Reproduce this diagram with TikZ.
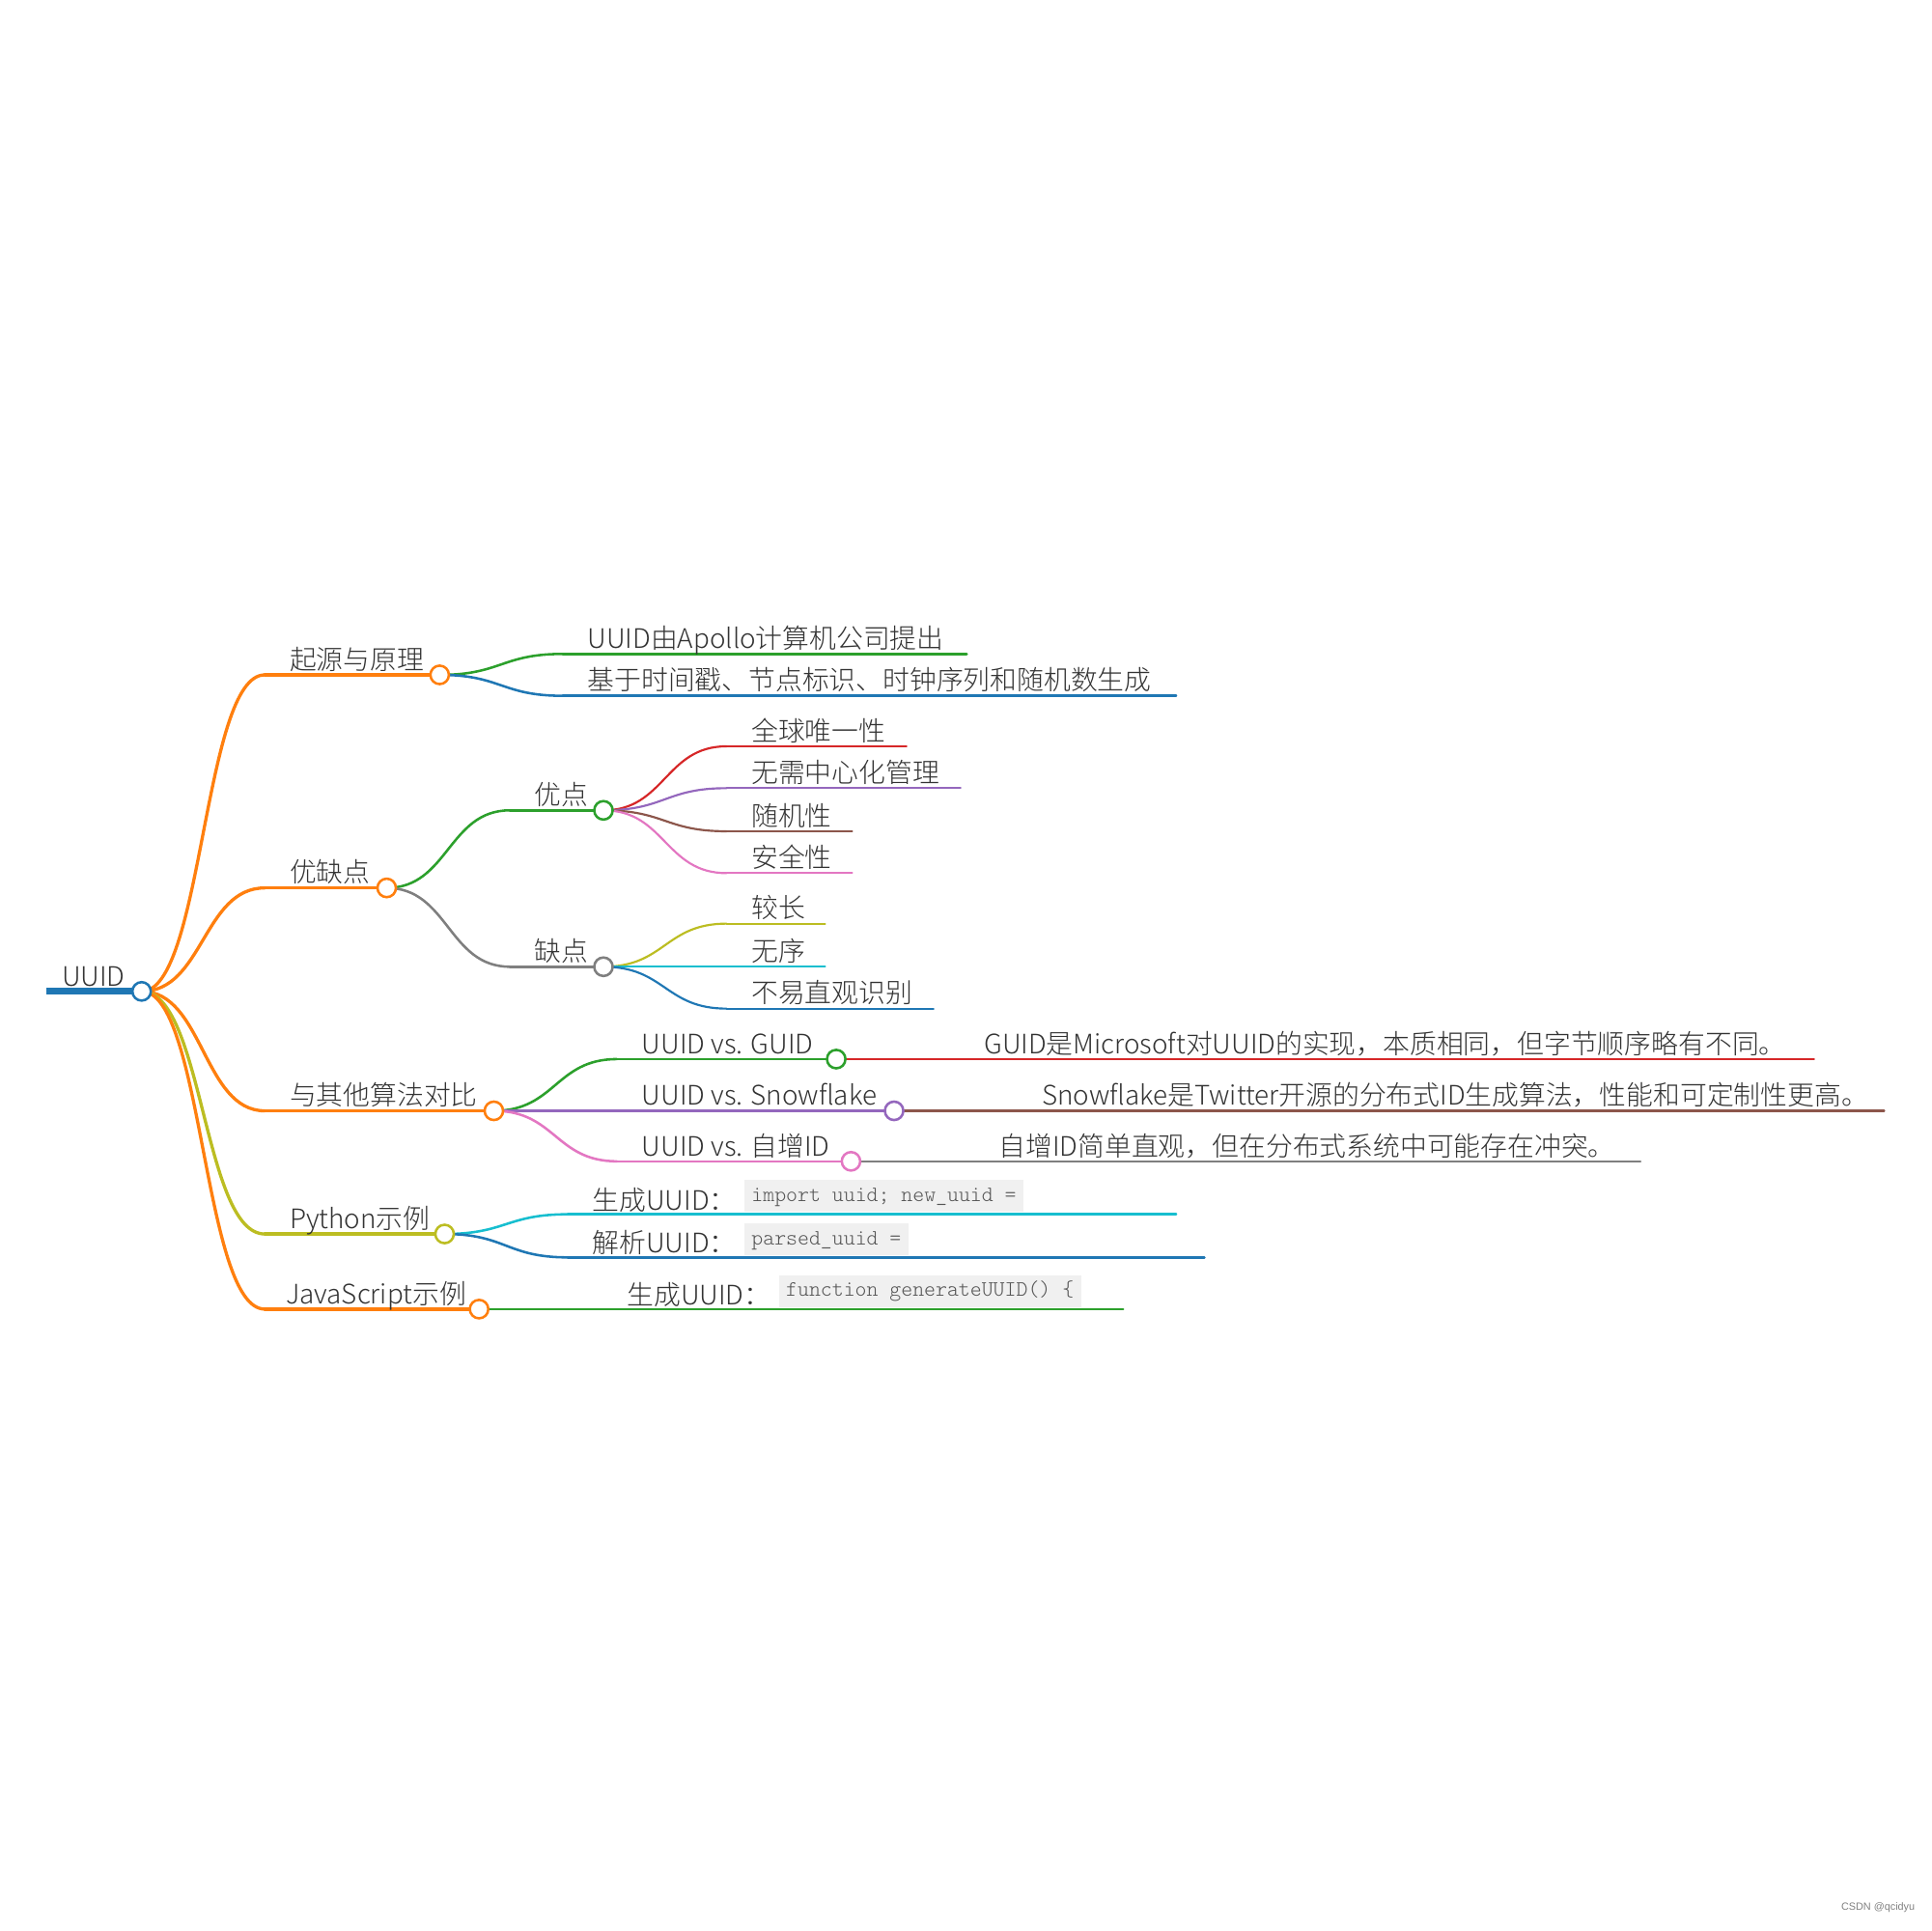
\documentclass[tikz,border=0pt]{standalone}
\usepackage{fontspec}
\setmainfont{Noto Sans CJK SC Light}
\setmonofont{Latin Modern Mono Light}
\newfontfamily\wmfont{Liberation Sans}
\definecolor{cBlue}{HTML}{1F77B4}
\definecolor{cOrange}{HTML}{FF7F0E}
\definecolor{cGreen}{HTML}{2CA02C}
\definecolor{cRed}{HTML}{D62728}
\definecolor{cPurple}{HTML}{9467BD}
\definecolor{cBrown}{HTML}{8C564B}
\definecolor{cPink}{HTML}{E377C2}
\definecolor{cGray}{HTML}{7F7F7F}
\definecolor{cOlive}{HTML}{BCBD22}
\definecolor{cCyan}{HTML}{17BECF}
\definecolor{txt}{HTML}{333333}
\definecolor{codebg}{HTML}{F0F0F0}
\definecolor{codetxt}{HTML}{555555}
\newcommand\lnk[3]{\draw[#3] (#1) .. controls +(50,0) and +(-50,0) .. (#2);}
\tikzset{
  lbl/.style={anchor=base west, inner sep=0pt, text=txt, font=\fontsize{21.8}{26}\selectfont, xshift=20pt, yshift=4.5pt},
  dot/.style={circle, draw, fill=white, minimum size=15pt, inner sep=0pt, line width=2pt},
  codebox/.style={anchor=south west, fill=codebg, text=codetxt, font=\ttfamily\fontsize{17.8}{22}\selectfont, inner xsep=6pt, inner ysep=4.5pt, text height=13pt, text depth=4pt, yshift=1.5pt},
  l1/.style={line width=2.6pt},
  l2/.style={line width=2pt},
  l3/.style={line width=1.7pt},
}
\begin{document}
\begin{tikzpicture}[x=1pt,y=-1pt, line cap=round]
\useasboundingbox (0,0) rectangle (1568,1568);
% ---------- coordinates ----------
\coordinate (r-s) at (38,805);
\coordinate (A-s) at (215,548);  \coordinate (A-c) at (357,548);
\coordinate (B-s) at (215,721);  \coordinate (B-c) at (314,721);
\coordinate (C-s) at (215,902);  \coordinate (C-c) at (401,902);
\coordinate (D-s) at (215,1002); \coordinate (D-c) at (361,1002);
\coordinate (E-s) at (215,1063); \coordinate (E-c) at (389,1063);
\coordinate (A1-s) at (457,531); \coordinate (A1-e) at (785,531);
\coordinate (A2-s) at (457,565); \coordinate (A2-e) at (955,565);
\coordinate (B1-s) at (414,658); \coordinate (B1-c) at (490,658);
\coordinate (B2-s) at (414,785); \coordinate (B2-c) at (490,785);
\coordinate (C1-s) at (501,860); \coordinate (C1-c) at (679,860);
\coordinate (C2-s) at (501,902); \coordinate (C2-c) at (726,902);
\coordinate (C3-s) at (501,943); \coordinate (C3-c) at (691,943);
\coordinate (D1-s) at (461,986); \coordinate (D1-e) at (955,986);
\coordinate (D2-s) at (461,1021); \coordinate (D2-e) at (978,1021);
\coordinate (E1-s) at (489,1063); \coordinate (E1-e) at (912,1063);
\coordinate (B1a-s) at (590,606); \coordinate (B1a-e) at (736,606);
\coordinate (B1b-s) at (590,640); \coordinate (B1b-e) at (780,640);
\coordinate (B1c-s) at (590,675); \coordinate (B1c-e) at (692,675);
\coordinate (B1d-s) at (590,709); \coordinate (B1d-e) at (692,709);
\coordinate (B2a-s) at (590,750); \coordinate (B2a-e) at (670,750);
\coordinate (B2b-s) at (590,785); \coordinate (B2b-e) at (670,785);
\coordinate (B2c-s) at (590,819); \coordinate (B2c-e) at (758,819);
\coordinate (C1a-s) at (779,860); \coordinate (C1a-e) at (1473,860);
\coordinate (C2a-s) at (826,902); \coordinate (C2a-e) at (1530,902);
\coordinate (C3a-s) at (791,943); \coordinate (C3a-e) at (1332,943);
\coordinate (r-c) at (115,805);
% ---------- links ----------
\lnk{r-c}{A-s}{cOrange,l1}
\lnk{r-c}{B-s}{cOrange,l1}
\lnk{r-c}{C-s}{cOrange,l1}
\lnk{r-c}{D-s}{cOlive,l1}
\lnk{r-c}{E-s}{cOrange,l1}
\lnk{A-c}{A1-s}{cGreen,l2}
\lnk{A-c}{A2-s}{cBlue,l2}
\lnk{B-c}{B1-s}{cGreen,l2}
\lnk{B-c}{B2-s}{cGray,l2}
\lnk{C-c}{C1-s}{cGreen,l2}
\lnk{C-c}{C2-s}{cPurple,l2}
\lnk{C-c}{C3-s}{cPink,l2}
\lnk{D-c}{D1-s}{cCyan,l2}
\lnk{D-c}{D2-s}{cBlue,l2}
\lnk{E-c}{E1-s}{cGreen,l2}
\lnk{B1-c}{B1a-s}{cRed,l3}
\lnk{B1-c}{B1b-s}{cPurple,l3}
\lnk{B1-c}{B1c-s}{cBrown,l3}
\lnk{B1-c}{B1d-s}{cPink,l3}
\lnk{B2-c}{B2a-s}{cOlive,l3}
\lnk{B2-c}{B2b-s}{cCyan,l3}
\lnk{B2-c}{B2c-s}{cBlue,l3}
\lnk{C1-c}{C1a-s}{cRed,l3}
\lnk{C2-c}{C2a-s}{cBrown,l3}
\lnk{C3-c}{C3a-s}{cGray,l3}
% ---------- underlines ----------
\draw[cBlue, line width=5.2pt, line cap=butt] (r-s) -- (r-c);
\draw[cOrange,l1] (A-s) -- (A-c);
\draw[cOrange,l1] (B-s) -- (B-c);
\draw[cOrange,l1] (C-s) -- (C-c);
\draw[cOlive,l1] (D-s) -- (D-c);
\draw[cOrange,l1] (E-s) -- (E-c);
\draw[cGreen,l2] (A1-s) -- (A1-e);
\draw[cBlue,l2] (A2-s) -- (A2-e);
\draw[cGreen,l2] (B1-s) -- (B1-c);
\draw[cGray,l2] (B2-s) -- (B2-c);
\draw[cGreen,l2] (C1-s) -- (C1-c);
\draw[cPurple,l2] (C2-s) -- (C2-c);
\draw[cPink,l2] (C3-s) -- (C3-c);
\draw[cCyan,l2] (D1-s) -- (D1-e);
\draw[cBlue,l2] (D2-s) -- (D2-e);
\draw[cGreen,l2] (E1-s) -- (E1-e);
\draw[cRed,l3] (B1a-s) -- (B1a-e);
\draw[cPurple,l3] (B1b-s) -- (B1b-e);
\draw[cBrown,l3] (B1c-s) -- (B1c-e);
\draw[cPink,l3] (B1d-s) -- (B1d-e);
\draw[cOlive,l3] (B2a-s) -- (B2a-e);
\draw[cCyan,l3] (B2b-s) -- (B2b-e);
\draw[cBlue,l3] (B2c-s) -- (B2c-e);
\draw[cRed,l3] (C1a-s) -- (C1a-e);
\draw[cBrown,l3] (C2a-s) -- (C2a-e);
\draw[cGray,l3] (C3a-s) -- (C3a-e);
% ---------- circles ----------
\node[dot, draw=cBlue] (r) at (r-c) {};
\node[dot, draw=cOrange] (A) at (A-c) {};
\node[dot, draw=cOrange] (B) at (B-c) {};
\node[dot, draw=cOrange] (C) at (C-c) {};
\node[dot, draw=cOlive] (D) at (D-c) {};
\node[dot, draw=cOrange] (E) at (E-c) {};
\node[dot, draw=cGreen] (B1) at (B1-c) {};
\node[dot, draw=cGray] (B2) at (B2-c) {};
\node[dot, draw=cGreen] (C1) at (C1-c) {};
\node[dot, draw=cPurple] (C2) at (C2-c) {};
\node[dot, draw=cPink] (C3) at (C3-c) {};
% ---------- labels ----------
\node[lbl, xshift=-8pt] (r-t) at (r-s) {UUID};
\node[lbl] (A-t) at (A-s) {起源与原理};
\node[lbl] (B-t) at (B-s) {优缺点};
\node[lbl] (C-t) at (C-s) {与其他算法对比};
\node[lbl] (D-t) at (D-s) {Python示例};
\node[lbl, xshift=-3pt] (E-t) at (E-s) {JavaScript示例};
\node[lbl] (A1-t) at (A1-s) {UUID由Apollo计算机公司提出};
\node[lbl] (A2-t) at (A2-s) {基于时间戳、节点标识、时钟序列和随机数生成};
\node[lbl] (B1-t) at (B1-s) {优点};
\node[lbl] (B2-t) at (B2-s) {缺点};
\node[lbl] (C1-t) at (C1-s) {UUID vs. GUID};
\node[lbl] (C2-t) at (C2-s) {UUID vs. Snowflake};
\node[lbl] (C3-t) at (C3-s) {UUID vs. 自增ID};
\node[lbl, yshift=-1pt] (D1-t) at (D1-s) {生成UUID：};
\node[lbl, yshift=-1pt] (D2-t) at (D2-s) {解析UUID：};
\node[lbl, yshift=-1pt] (E1-t) at (E1-s) {生成UUID：};
\node[lbl] (B1a-t) at (B1a-s) {全球唯一性};
\node[lbl] (B1b-t) at (B1b-s) {无需中心化管理};
\node[lbl] (B1c-t) at (B1c-s) {随机性};
\node[lbl] (B1d-t) at (B1d-s) {安全性};
\node[lbl] (B2a-t) at (B2a-s) {较长};
\node[lbl] (B2b-t) at (B2b-s) {无序};
\node[lbl] (B2c-t) at (B2c-s) {不易直观识别};
\node[lbl] (C1a-t) at (C1a-s) {GUID是Microsoft对UUID的实现，本质相同，但字节顺序略有不同。};
\node[lbl] (C2a-t) at (C2a-s) {Snowflake是Twitter开源的分布式ID生成算法，性能和可定制性更高。};
\node[lbl] (C3a-t) at (C3a-s) {自增ID简单直观，但在分布式系统中可能存在冲突。};
% ---------- code boxes ----------
\coordinate (D1-k) at ([xshift=6pt]D1-t.base east);
\coordinate (D2-k) at ([xshift=6pt]D2-t.base east);
\coordinate (E1-k) at ([xshift=6pt]E1-t.base east);
\node[codebox] (D1-code) at (D1-k |- D1-s) {import uuid; new\_uuid =};
\node[codebox] (D2-code) at (D2-k |- D2-s) {parsed\_uuid =};
\node[codebox] (E1-code) at (E1-k |- E1-s) {function generateUUID() \{};
% ---------- watermark ----------
\node[anchor=base east, inner sep=0pt, text=gray, font=\wmfont\fontsize{8.5}{10}\selectfont] (wm) at (1555,1551) {CSDN @qcidyu};
\end{tikzpicture}
\end{document}
